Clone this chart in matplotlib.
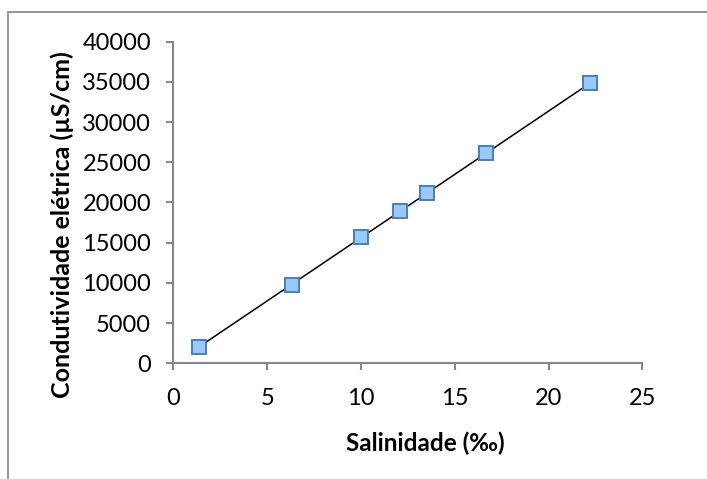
import numpy as np
import matplotlib
matplotlib.use('Agg')
import matplotlib.pyplot as plt
from matplotlib.patches import Rectangle

salinidade = [1.37, 6.31, 9.99, 12.1, 13.5, 16.67, 22.21]
condutividade = [2070, 9740, 15670, 18940, 21140, 26120, 34830]

x_ticks = [0, 5, 10, 15, 20, 25]
y_ticks = [0, 5000, 10000, 15000, 20000, 25000, 30000, 35000, 40000]

plt.rcParams['font.family'] = ['Lato', 'DejaVu Sans']

W, H = 707, 479
fig = plt.figure(figsize=(W / 100, H / 100), dpi=100)
ax = fig.add_axes([0.2452, 0.2415, 0.6633, 0.6715])

# moldura da área do gráfico
fig.patches.append(Rectangle((8 / W, -0.1), 1.2, 1 - 12 / H + 0.1,
                             transform=fig.transFigure, fill=False,
                             edgecolor='#8c8c8c', linewidth=1.3))

# linha de tendência linear
a, b = np.polyfit(salinidade, condutividade, 1)
xs = np.array([min(salinidade), max(salinidade)])
ax.plot(xs, a * xs + b, color='black', linewidth=1.1, zorder=2)

ax.plot(salinidade, condutividade, linestyle='none', marker='s', markersize=9.5,
        markerfacecolor='#99c9fb', markeredgecolor='#4a7ebb',
        markeredgewidth=1.4, zorder=3)

ax.set_xlim(0, 25)
ax.set_ylim(0, 40000)
ax.set_xticks(x_ticks)
ax.set_yticks(y_ticks)

for s in ['top', 'right']:
    ax.spines[s].set_visible(False)
for s in ['left', 'bottom']:
    ax.spines[s].set_color('#868686')
    ax.spines[s].set_linewidth(1.5)

ax.tick_params(axis='both', direction='out', length=5, width=1.5,
               color='#868686', labelsize=17, labelcolor='black')
ax.tick_params(axis='y', pad=11)
ax.tick_params(axis='x', pad=13)

# títulos dos eixos
fig.text(425 / W, 1 - 443 / H, 'Salinidade (‰)', fontsize=17.5,
         fontweight='bold', ha='center', va='center')
fig.text(62 / W, 1 - 225 / H, 'Condutividade elétrica (µS/cm)', fontsize=18,
         fontweight='bold', ha='center', va='center', rotation=90)

fig.savefig('out.png', dpi=100)
